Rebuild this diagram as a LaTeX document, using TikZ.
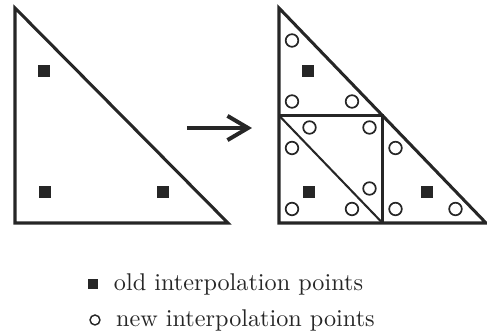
\documentclass[tikz,border=0pt]{standalone}
\usetikzlibrary{positioning,arrows.meta}
\begin{document}
\begin{tikzpicture}[
  x=0.413pt, y=-0.413pt,
  color=black!85,
  edge/.style={draw, line width=1.25pt, line join=miter},
  split edge/.style={draw, line width=0.85pt},
  old point/.style={fill=black!85, minimum size=4.8pt, inner sep=0pt},
  new point/.style={circle, draw, line width=0.7pt, minimum size=5.2pt, inner sep=0pt},
  every node/.style={font=\normalsize}
]
\useasboundingbox (0,0) rectangle (487,333);

% original element
\coordinate (a1) at (15,8);
\coordinate (a2) at (15,223);
\coordinate (a3) at (228,223);
\draw[edge] (a1) -- (a2) -- (a3) -- cycle;
\node[old point] (old a1) at (44,71) {};
\node[old point] (old a2) at (45,192) {};
\node[old point] (old a3) at (163,192) {};

% refinement arrow
\coordinate (arrow tail) at (187,128);
\coordinate (arrow head) at (252,128);
\draw[line width=1.65pt, -{Straight Barb[length=8.5pt, width=10pt]}] (arrow tail) -- (arrow head);

% refined element
\coordinate (b1) at (279,8);
\coordinate (b2) at (279,223);
\coordinate (b3) at (486,223);
\coordinate (m12) at (279,115.5);
\coordinate (m23) at (382.5,223);
\coordinate (m13) at (382.5,115.5);
\draw[split edge] (m12) -- (m13) -- (m23);
\draw[split edge] (m12) -- (m23);
\draw[edge] (b1) -- (b2) -- (b3) -- cycle;

\node[old point] (old b1) at (308,71) {};
\node[old point] (old b2) at (309,192) {};
\node[old point] (old b3) at (427,192) {};

% top sub-triangle
\node[new point] (new t1) at (292,40.5) {};
\node[new point] (new t2) at (292,101.5) {};
\node[new point] (new t3) at (352,101.5) {};
% middle sub-triangle
\node[new point] (new m1) at (309.5,127.5) {};
\node[new point] (new m2) at (369.5,127.5) {};
\node[new point] (new m3) at (369.5,188.5) {};
% lower left sub-triangle
\node[new point] (new l1) at (292,148) {};
\node[new point] (new l2) at (292,209) {};
\node[new point] (new l3) at (352,209) {};
% right sub-triangle
\node[new point] (new r1) at (395.5,148) {};
\node[new point] (new r2) at (395.5,209) {};
\node[new point] (new r3) at (455.5,209) {};

% legend
\node[old point, minimum size=4.1pt] (key old) at (93,284) {};
\node[right=6.2pt of key old, inner sep=0pt] (text old) {old interpolation points};
\node[new point, minimum size=4.1pt, line width=0.6pt] (key new) at (95,320) {};
\node[right=6.2pt of key new, inner sep=0pt] (text new) {new interpolation points};
\end{tikzpicture}
\end{document}
